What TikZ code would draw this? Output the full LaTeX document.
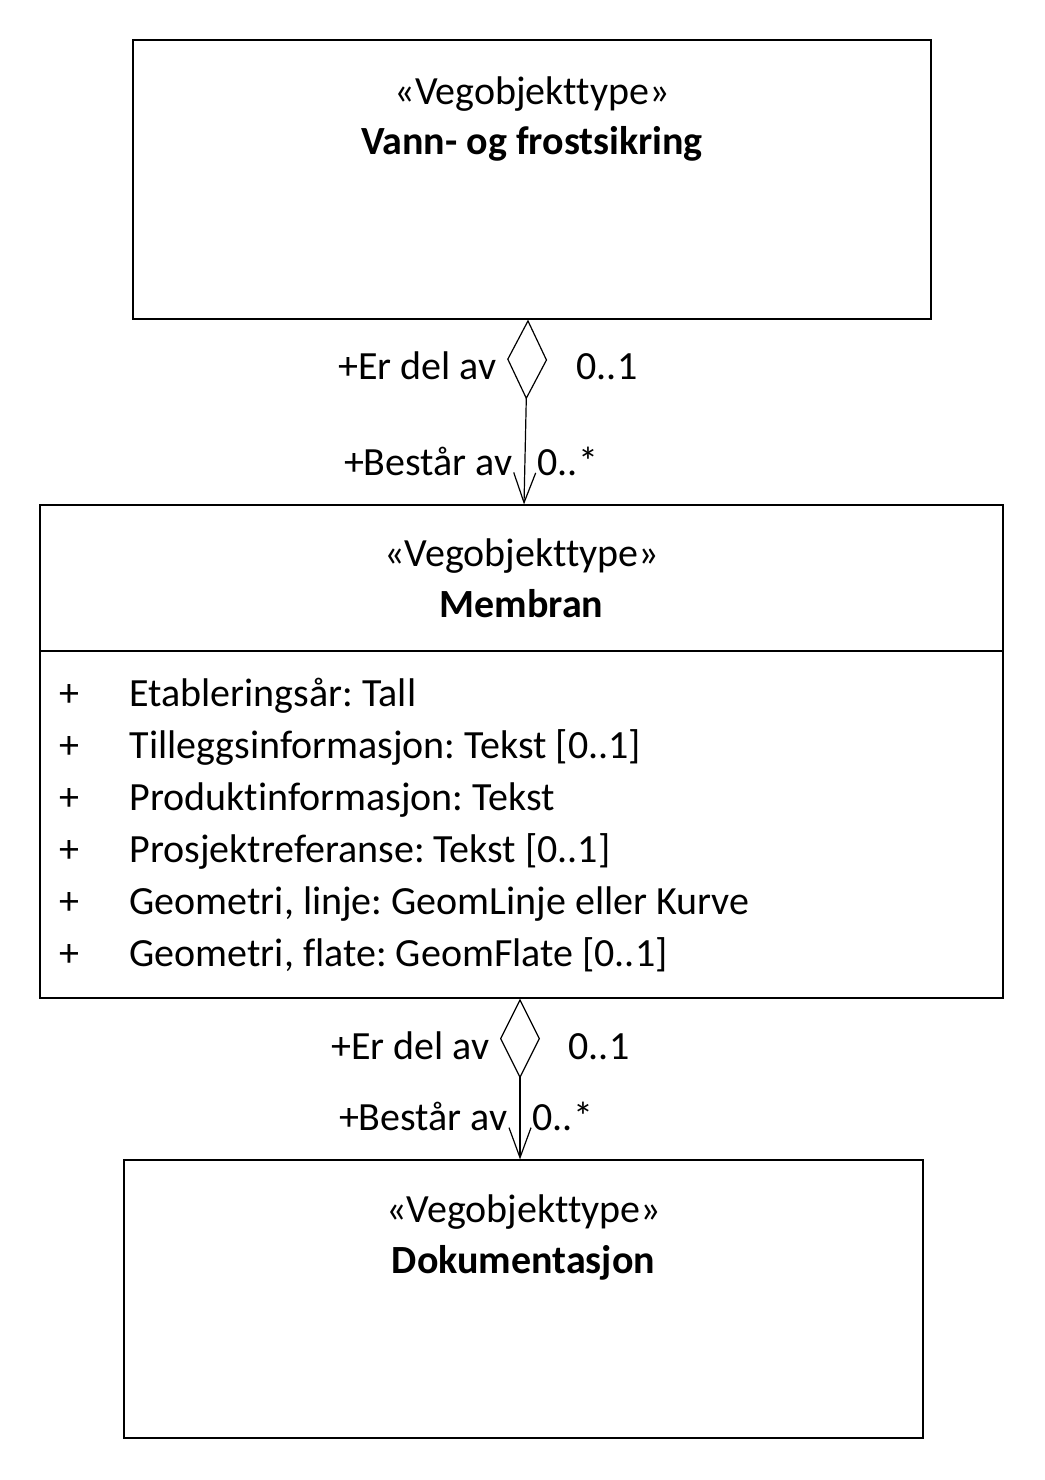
\documentclass[tikz,border=0pt]{standalone}
\usepackage{fontspec}
\setmainfont{Carlito}[Ligatures=NoCommon]
\usetikzlibrary{arrows.meta}
\newcommand{\umlStereo}[1]{\guillemotleft#1\guillemotright}
\frenchspacing

\begin{document}
\begin{tikzpicture}[x=1pt,y=-1pt,line width=1.2pt,
  font=\fontsize{40}{48}\selectfont,
  umlbox/.style={draw, rectangle, inner sep=0pt},
  txt/.style={anchor=base, inner sep=0pt},
  aggr/.style={{Diamond[open,length=80pt,width=40pt,line width=1.2pt]}-{Straight Barb[length=30pt,width=22pt,line width=1.2pt]}}]
\useasboundingbox (0,0) rectangle (1044,1480);
% klasser
\node[umlbox, minimum width=798pt, minimum height=279pt] (vann) at (532,179.5) {};
\node[umlbox, minimum width=963pt, minimum height=493pt] (membran) at (521.5,751.5) {};
\node[umlbox, minimum width=799pt, minimum height=278pt] (dok) at (523.5,1299) {};
\draw (membran.west |- 0,651) -- (membran.east |- 0,651);
\node[txt] (vannStereo) at (532,104) {\umlStereo{Vegobjekttype}};
\node[txt] (vannName) at (532,154) {\textbf{Vann- og frostsikring}};
\node[txt] (membranStereo) at (521.5,566) {\umlStereo{Vegobjekttype}};
\node[txt] (membranName) at (521.5,617) {\textbf{Membran}};
\node[txt] (dokStereo) at (523.5,1222) {\umlStereo{Vegobjekttype}};
\node[txt] (dokName) at (523.5,1273) {\textbf{Dokumentasjon}};
% attributter
\foreach \i/\a in {0/{Etableringsår: Tall},1/{Tilleggsinformasjon: Tekst [0..1]},2/{Produktinformasjon: Tekst},3/{Prosjektreferanse: Tekst [0..1]},4/{Geometri, linje: GeomLinje eller Kurve},5/{Geometri, flate: GeomFlate [0..1]}}{
  \node[txt] (plus\i) at (69,706+52*\i) {+};
  \node[txt, anchor=base west] (attr\i) at (129,706+52*\i) {\a};
}
% assosiasjoner
\draw[aggr] ([xshift=-4pt]vann.south) -- ([xshift=2.5pt]membran.north);
\node[txt, anchor=base east] (roleA1) at (497,379) {+Er del av};
\node[txt, anchor=base west] (multA1) at (576,379) {0..1};
\node[txt, anchor=base east] (roleB1) at (513,475) {+Består av};
\node[txt, anchor=base west] (multB1) at (537,475) {0..*};
\draw[aggr] ([xshift=-1.5pt]membran.south) -- ([xshift=-3.5pt]dok.north);
\node[txt, anchor=base east] (roleA2) at (490,1059) {+Er del av};
\node[txt, anchor=base west] (multA2) at (568,1059) {0..1};
\node[txt, anchor=base east] (roleB2) at (508,1130) {+Består av};
\node[txt, anchor=base west] (multB2) at (532,1130) {0..*};
\end{tikzpicture}
\end{document}
